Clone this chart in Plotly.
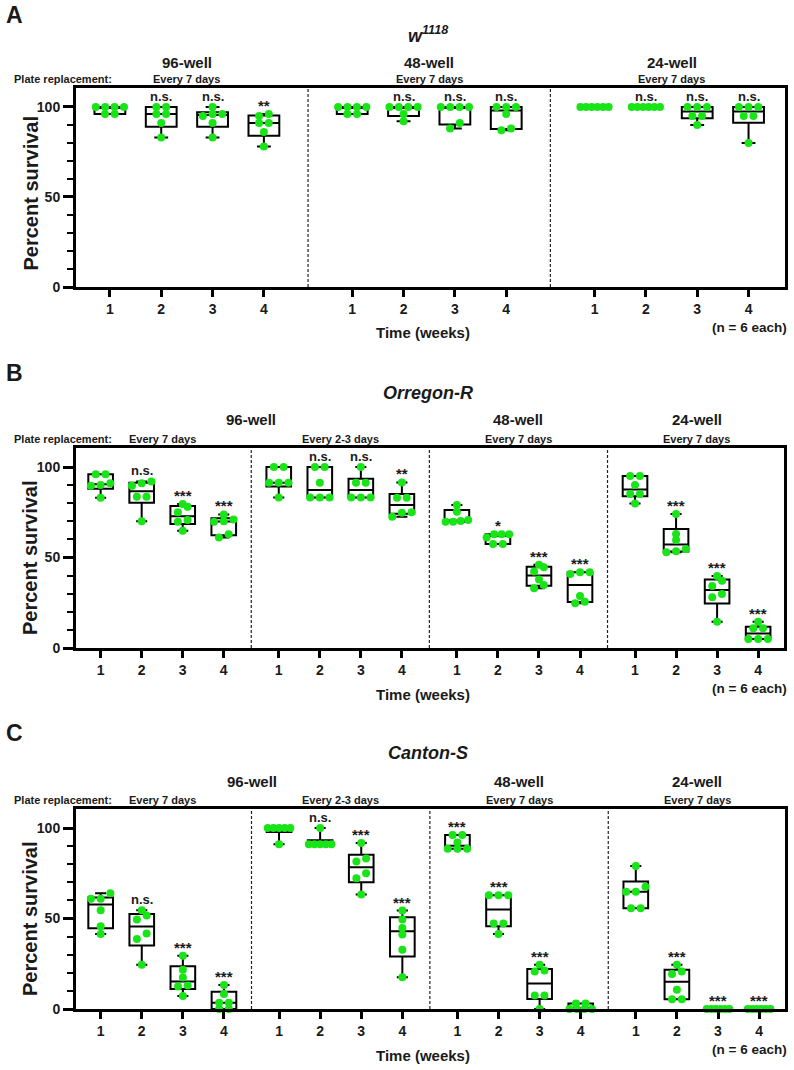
import numpy as np
import plotly.graph_objects as go

# ---------------- data ----------------
WEEKS = ["1", "2", "3", "4"]

# Panel A : w1118
A_plate = ["96-well", "48-well", "24-well"]
A_replacement = ["Every 7 days", "Every 7 days", "Every 7 days"]
A_values = [
    [100, 100, 100, 100, 96, 96],
    [100, 100, 96, 96, 91, 83],
    [100, 96, 96, 95, 91, 83],
    [96, 95, 91, 91, 86, 78],
    [100, 100, 100, 100, 96, 96],
    [100, 100, 100, 100, 96, 92],
    [100, 100, 100, 100, 91, 88],
    [100, 100, 100, 96, 88, 87],
    [100, 100, 100, 100, 100, 100],
    [100, 100, 100, 100, 100, 100],
    [100, 100, 100, 95, 95, 90],
    [100, 100, 100, 95, 95, 80],
]
A_sig = ["", "n.s.", "n.s.", "**", "", "n.s.", "n.s.", "n.s.", "", "n.s.", "n.s.", "n.s."]

# Panel B : Orregon-R
B_plate = ["96-well", "96-well", "48-well", "24-well"]
B_replacement = ["Every 7 days", "Every 2-3 days", "Every 7 days", "Every 7 days"]
B_values = [
    [96, 96, 91, 90, 89.7, 83],
    [92, 91, 89.7, 83.6, 83.6, 70],
    [79.6, 78, 75, 70.7, 69.8, 64.8],
    [73.8, 71, 70, 69.8, 62.8, 61],
    [100, 100, 91.3, 91.3, 91.3, 83.2],
    [100, 100, 91.3, 83.2, 83.2, 83.2],
    [100, 91.3, 91.3, 83.2, 83.2, 83.2],
    [91.5, 83, 83, 75, 74.7, 72.5],
    [79, 75.3, 70.7, 70.2, 69.8, 69.8],
    [62.8, 62.8, 62.8, 61, 57.5, 57.5],
    [46, 44.6, 42.2, 37.9, 34.8, 33],
    [41.8, 41.8, 40.9, 28.7, 25.6, 24.7],
    [95, 95, 90, 85.1, 85.1, 79.9],
    [74, 63, 59.7, 54.7, 53.5, 52.9],
    [39.8, 37.2, 34.3, 29.8, 28, 14.5],
    [14.5, 10.9, 10.9, 5, 5, 5],
]
B_sig = ["", "n.s.", "***", "***", "", "n.s.", "n.s.", "**",
         "", "*", "***", "***", "", "***", "***", "***"]

# Panel C : Canton-S
C_plate = ["96-well", "96-well", "48-well", "24-well"]
C_replacement = ["Every 7 days", "Every 2-3 days", "Every 7 days", "Every 7 days"]
C_values = [
    [63.9, 60.9, 60.9, 54.6, 45.7, 41.5],
    [54.6, 51.7, 49.4, 41.7, 38.7, 24.4],
    [29.4, 21.7, 17.4, 13, 12.4, 7.2],
    [13.3, 8.3, 3.5, 3.5, 0, 0],
    [100, 100, 100, 100, 100, 91],
    [100, 91, 91, 91, 91, 91],
    [91.7, 83.1, 81.5, 75, 72.2, 63.3],
    [54.4, 49.4, 44.8, 41.1, 32.8, 17.6],
    [96.1, 96.1, 92, 88.5, 88.5, 88.5],
    [62.8, 62.8, 62.8, 47.2, 47.2, 41.5],
    [24.4, 21.3, 20.7, 7.4, 7.4, 0],
    [3.1, 3.1, 0, 0, 0, 0],
    [79, 67.6, 64.8, 64.8, 55.6, 55.6],
    [24.4, 20.7, 19.4, 10.6, 5.4, 5.4],
    [0, 0, 0, 0, 0, 0],
    [0, 0, 0, 0, 0, 0],
]
C_sig = ["", "n.s.", "***", "***", "", "n.s.", "***", "***",
         "***", "***", "***", "", "", "***", "***", "***"]

# ---------------- styling / layout ----------------
W, H = 794, 1070
GREEN = "#18E418"
FONT = "Liberation Sans, Arial, sans-serif"
TXT = "#1a1a1a"
YMAX = 110.5

panels = [
    dict(letter="A", title="<b><i>w<sup>1118</sup></i></b>", plate=A_plate, repl=A_replacement,
         values=A_values, sig=A_sig, gap=4.72, xr=[-0.66, 13.15],
         xpx=(76, 785), ypx=(88, 287), letter_y=15, title_y=35, head_y=62, sub_y=79, ytitle_dy=6),
    dict(letter="B", title="<b><i>Orregon-R</i></b>", plate=B_plate, repl=B_replacement,
         values=B_values, sig=B_sig, gap=4.34, xr=[-0.6, 16.65],
         xpx=(76, 784), ypx=(448, 648), letter_y=373, title_y=393, head_y=419, sub_y=439, ytitle_dy=10),
    dict(letter="C", title="<b><i>Canton-S</i></b>", plate=C_plate, repl=C_replacement,
         values=C_values, sig=C_sig, gap=4.34, xr=[-0.6, 16.65],
         xpx=(76, 785), ypx=(809, 1009), letter_y=733, title_y=753, head_y=781, sub_y=800, ytitle_dy=10),
]


def px2paper_x(px):
    return px / W


def px2paper_y(py):
    return 1 - py / H


def swarm_offsets(vals, ux, uy, dot=5.5, maxspan=0.55):
    vals = np.asarray(vals, dtype=float)
    order = np.argsort(vals, kind="stable")
    offs = np.zeros(len(vals))
    rows, cur = [], [order[0]]
    for idx in order[1:]:
        if (vals[idx] - vals[cur[0]]) * uy < dot:
            cur.append(idx)
        else:
            rows.append(cur)
            cur = [idx]
    rows.append(cur)
    for r in rows:
        k = len(r)
        if k == 1:
            continue
        sp = min(9.7 / ux, maxspan / (k - 1))
        for i, idx in enumerate(r):
            offs[idx] = (i - (k - 1) / 2) * sp
    return offs


fig = go.Figure()
annotations = []
shapes = []
layout_axes = {}

for pi, p in enumerate(panels):
    sfx = "" if pi == 0 else str(pi + 1)
    xa, ya = "x" + sfx, "y" + sfx
    nsec = len(p["plate"])
    pos = np.array([s * p["gap"] + w for s in range(nsec) for w in range(4)], dtype=float)
    ux = (p["xpx"][1] - p["xpx"][0]) / (p["xr"][1] - p["xr"][0])
    uy = (p["ypx"][1] - p["ypx"][0]) / YMAX

    vals = [np.array(v, dtype=float) for v in p["values"]]
    q1 = [float(np.percentile(v, 25, method="weibull")) for v in vals]
    med = [float(np.percentile(v, 50, method="weibull")) for v in vals]
    q3 = [float(np.percentile(v, 75, method="weibull")) for v in vals]
    lo = [float(v.min()) for v in vals]
    hi = [float(v.max()) for v in vals]

    fig.add_trace(go.Box(
        x=pos, q1=q1, median=med, q3=q3, lowerfence=lo, upperfence=hi,
        orientation="v", width=0.6, whiskerwidth=0.45, boxpoints=False,
        line=dict(color="black", width=2), fillcolor="rgba(255,255,255,0)",
        xaxis=xa, yaxis=ya, showlegend=False, hoverinfo="skip"))

    px_all, py_all = [], []
    for g, v in enumerate(vals):
        offs = swarm_offsets(v, ux, uy)
        px_all.extend(pos[g] + offs)
        py_all.extend(v)
    fig.add_trace(go.Scatter(
        x=px_all, y=py_all, mode="markers",
        marker=dict(color=GREEN, size=8, line=dict(width=0)),
        cliponaxis=False, xaxis=xa, yaxis=ya, showlegend=False, hoverinfo="skip"))

    # axes
    layout_axes["xaxis" + sfx] = dict(
        domain=[px2paper_x(p["xpx"][0]), px2paper_x(p["xpx"][1])],
        range=p["xr"], anchor=ya, tickmode="array", tickvals=list(pos),
        ticktext=WEEKS * nsec, ticks="outside", ticklen=7, tickwidth=2.5,
        tickcolor="black", showline=True, linewidth=3, linecolor="black",
        mirror=True, showgrid=False, zeroline=False, automargin=False,
        tickfont=dict(family=FONT, size=14, color=TXT, weight="bold"))
    layout_axes["yaxis" + sfx] = dict(
        domain=[px2paper_y(p["ypx"][1]), px2paper_y(p["ypx"][0])],
        range=[0, YMAX], anchor=xa, tickmode="array", tickvals=[0, 50, 100],
        ticks="outside", ticklen=10, tickwidth=2.5, tickcolor="black",
        showline=True, linewidth=3, linecolor="black", mirror=True,
        showgrid=False, zeroline=False, automargin=False,
        minor=dict(tickmode="array", tickvals=[10, 20, 30, 40, 60, 70, 80, 90],
                   ticks="outside", ticklen=6, tickwidth=2, tickcolor="black", showgrid=False),
        tickfont=dict(family=FONT, size=14, color=TXT, weight="bold"))

    # dashed dividers between sections
    for s in range(1, nsec):
        xd = ((s - 1) * p["gap"] + 3 + s * p["gap"]) / 2
        shapes.append(dict(type="line", xref=xa, yref=ya + " domain", x0=xd, x1=xd, y0=0, y1=1,
                           line=dict(color="#222222", width=1.2, dash="3px,2px")))

    # significance labels
    for g, s in enumerate(p["sig"]):
        if not s:
            continue
        star = s.startswith("*")
        annotations.append(dict(
            x=pos[g], y=hi[g], xref=xa, yref=ya, text="<b>%s</b>" % s, showarrow=False,
            xanchor="center", yanchor="bottom", yshift=-2 if star else 1,
            font=dict(family=FONT, size=15 if star else 13, color=TXT)))

    # plate headers (grouped consecutive) and replacement subheaders
    s = 0
    while s < nsec:
        e = s
        while e + 1 < nsec and p["plate"][e + 1] == p["plate"][s]:
            e += 1
        xc = (pos[s * 4] + pos[e * 4 + 3]) / 2
        annotations.append(dict(x=xc, y=px2paper_y(p["head_y"]), xref=xa, yref="paper",
                                text="<b>%s</b>" % p["plate"][s], showarrow=False,
                                xanchor="center", yanchor="middle",
                                font=dict(family=FONT, size=15, color=TXT)))
        s = e + 1
    for s in range(nsec):
        xc = (pos[s * 4] + pos[s * 4 + 3]) / 2
        annotations.append(dict(x=xc, y=px2paper_y(p["sub_y"]), xref=xa, yref="paper",
                                text="<b>%s</b>" % p["repl"][s], showarrow=False,
                                xanchor="center", yanchor="middle",
                                font=dict(family=FONT, size=11, color=TXT)))
    annotations.append(dict(x=px2paper_x(12), y=px2paper_y(p["sub_y"]), xref="paper", yref="paper",
                            text="<b>Plate replacement:</b>", showarrow=False,
                            xanchor="left", yanchor="middle",
                            font=dict(family=FONT, size=11, color=TXT)))

    # panel letter and title
    annotations.append(dict(x=px2paper_x(4), y=px2paper_y(p["letter_y"]), xref="paper", yref="paper",
                            text="<b>%s</b>" % p["letter"], showarrow=False,
                            xanchor="left", yanchor="middle",
                            font=dict(family=FONT, size=23, color=TXT)))
    annotations.append(dict(x=px2paper_x(428), y=px2paper_y(p["title_y"]), xref="paper", yref="paper",
                            text=p["title"], showarrow=False, xanchor="center", yanchor="middle",
                            font=dict(family=FONT, size=18, color=TXT)))

    # axis titles
    ymid = (p["ypx"][0] + p["ypx"][1]) / 2 + p["ytitle_dy"]
    annotations.append(dict(x=px2paper_x(30), y=px2paper_y(ymid), xref="paper", yref="paper",
                            text="<b>Percent survival</b>", showarrow=False, textangle=-90,
                            xanchor="center", yanchor="middle",
                            font=dict(family=FONT, size=20, color=TXT)))
    annotations.append(dict(x=px2paper_x(423), y=px2paper_y(p["ypx"][1] + 46), xref="paper", yref="paper",
                            text="<b>Time (weeks)</b>", showarrow=False,
                            xanchor="center", yanchor="middle",
                            font=dict(family=FONT, size=15, color=TXT)))
    annotations.append(dict(x=px2paper_x(749), y=px2paper_y(p["ypx"][1] + 40), xref="paper", yref="paper",
                            text="<b>(n = 6 each)</b>", showarrow=False,
                            xanchor="center", yanchor="middle",
                            font=dict(family=FONT, size=13.5, color=TXT)))

fig.update_layout(
    width=W, height=H, margin=dict(l=0, r=0, t=0, b=0),
    paper_bgcolor="white", plot_bgcolor="white",
    font=dict(family=FONT, color=TXT),
    annotations=annotations, shapes=shapes, showlegend=False,
    **layout_axes)

fig.write_html("out.html", config={"displayModeBar": False},
               post_script="document.body.style.margin='0';document.body.style.overflow='hidden';")
